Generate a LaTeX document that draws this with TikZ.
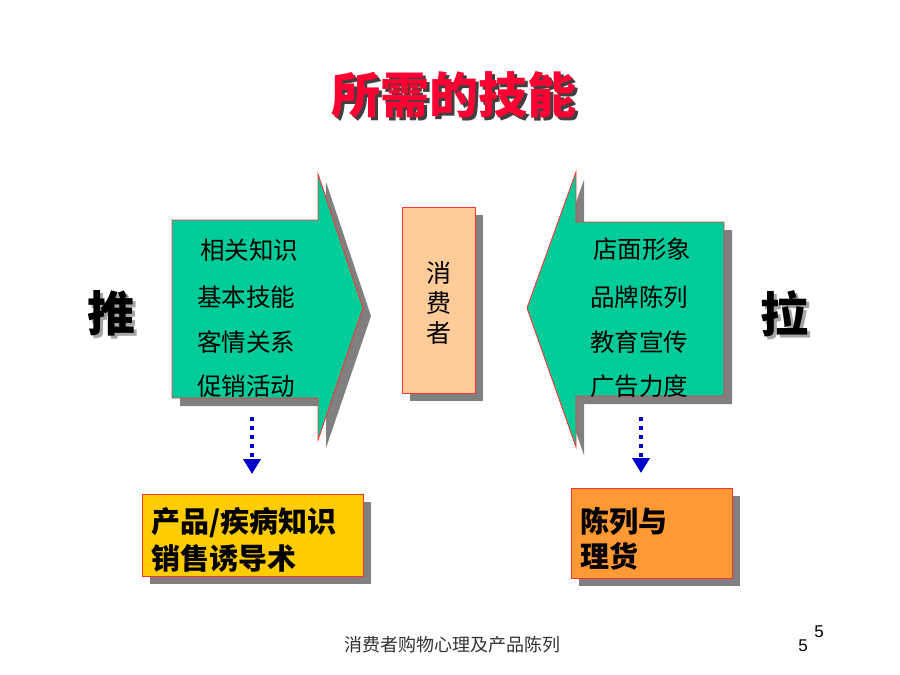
\documentclass[tikz,border=0pt]{standalone}
\usepackage{fontspec}
\setmainfont{Noto Sans CJK SC}
\newfontfamily\numfont{Liberation Sans}
\usetikzlibrary{arrows.meta}
\definecolor{arrowgreen}{HTML}{00CC99}
\definecolor{edgered}{HTML}{FF3333}
\definecolor{shadowgray}{HTML}{808080}
\definecolor{peach}{HTML}{FFCC99}
\definecolor{boxyellow}{HTML}{FFCC00}
\definecolor{boxorange}{HTML}{FF9933}
\definecolor{titlered}{HTML}{FF0033}
\definecolor{dotblue}{HTML}{0000CC}
\newcommand{\shadowtext}[3]{\rlap{\hspace{#1}\raisebox{-#1}{\color{#2}#3}}#3}
\tikzset{
  shapebox/.style={draw=edgered, line width=0.9pt},
  itemtext/.style={anchor=west, inner sep=0pt, font=\fontsize{24.5}{27}\selectfont},
  boxtext/.style={anchor=north west, inner sep=0pt, align=left, font=\bfseries\fontsize{29}{37}\selectfont},
  bigchar/.style={inner sep=0pt, font=\bfseries\fontsize{48}{52}\selectfont},
  dotarrow/.style={dotblue, line width=4pt, dash pattern=on 4pt off 5pt, -{Triangle[width=17pt,length=15pt,sep=0pt]}, shorten >=16pt},
}
\begin{document}
\begin{tikzpicture}[x=1pt,y=-1pt]
\useasboundingbox[fill=white] (0,0) rectangle (900,675);

% title
\node[bigchar, font=\bfseries\fontsize{49}{52}\selectfont, text=titlered] (title) at (454,96) {\shadowtext{3pt}{black!75}{所需的技能}};

% left arrow (push)
\fill[shadowgray] (180,228) -- (326,228) -- (326,182) -- (371,316) -- (326,448) -- (326,406) -- (180,406) -- cycle;
\filldraw[shapebox, fill=arrowgreen] (172,220) -- (318,220) -- (318,174) -- (363,308) coordinate (ltip) -- (318,440) -- (318,398) -- (172,398) -- cycle;
\node[itemtext] (l1) at (200,250) {相关知识};
\node[itemtext] (l2) at (197,297) {基本技能};
\node[itemtext] (l3) at (197,342) {客情关系};
\node[itemtext] (l4) at (197,386) {促销活动};

% right arrow (pull)
\fill[shadowgray] (732,230) -- (584,230) -- (584,180) -- (535,316) -- (584,455) -- (584,404) -- (732,404) -- cycle;
\filldraw[shapebox, fill=arrowgreen] (724,222) -- (576,222) -- (576,172) -- (527,308) coordinate (rtip) -- (576,447) -- (576,396) -- (724,396) -- cycle;
\node[itemtext] (r1) at (593,249) {店面形象};
\node[itemtext] (r2) at (590,297) {品牌陈列};
\node[itemtext] (r3) at (590,342) {教育宣传};
\node[itemtext] (r4) at (590,386) {广告力度};

% consumer
\fill[shadowgray] (410,215) rectangle (483,401);
\filldraw[shapebox, fill=peach] (402,207) rectangle (475,393);
\node[inner sep=0pt, align=center, font=\fontsize{25}{30}\selectfont] (consumer) at (438.5,303) {消\\费\\者};

% push / pull labels
\node[bigchar] (push) at (111,315) {\shadowtext{3.5pt}{black!35}{推}};
\node[bigchar] (pull) at (784,315) {\shadowtext{3.5pt}{black!35}{拉}};

% bottom boxes
\fill[shadowgray] (150,502) rectangle (371,584);
\filldraw[shapebox, fill=boxyellow] (142,494) rectangle (363,576);
\node[boxtext] (ybox) at (151,507) {产品/疾病知识\\销售诱导术};

\fill[shadowgray] (579,496) rectangle (740,586);
\filldraw[shapebox, fill=boxorange] (571,488) rectangle (732,578);
\node[boxtext, font=\bfseries\fontsize{29}{35}\selectfont] (obox) at (580,507) {陈列与\\理货};

% dotted connectors
\coordinate (ls) at (252,417);
\coordinate (le) at (252,490);
\coordinate (rs) at (641,417);
\coordinate (re) at (641,489);
\draw[dotarrow] (ls) -- (le);
\draw[dotarrow] (rs) -- (re);

% footer
\node[inner sep=0pt, text=black!80, font=\fontsize{18}{20}\selectfont] (footer) at (452,645) {消费者购物心理及产品陈列};
\node[inner sep=0pt, font=\numfont\fontsize{17}{20}\selectfont] (pg1) at (803,646) {5};
\node[inner sep=0pt, font=\numfont\fontsize{17}{20}\selectfont] (pg2) at (819,632) {5};
\end{tikzpicture}
\end{document}
